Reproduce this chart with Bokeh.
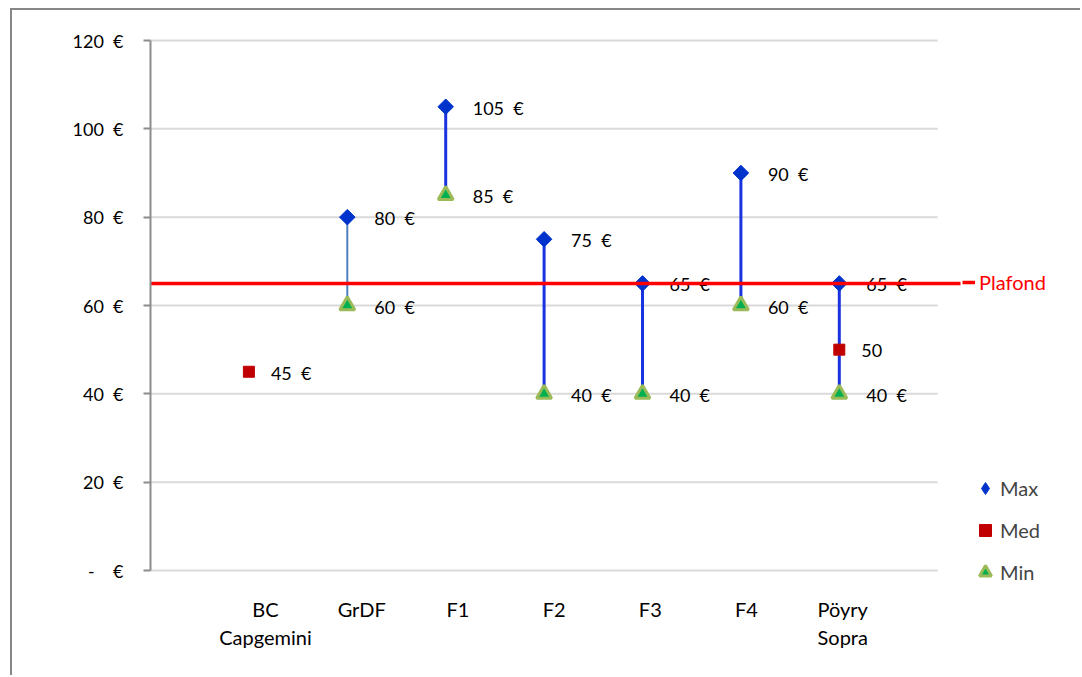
import math
from bokeh.plotting import figure
from bokeh.models import (ColumnDataSource, Range1d, LinearAxis, FixedTicker,
                          Legend, LegendItem)
from bokeh.embed import file_html
from bokeh.resources import INLINE

# --- data -----------------------------------------------------------------
categories = ["BC\nCapgemini", "GrDF", "F1", "F2", "F3", "F4", "Pöyry\nSopra"]
positions = [1, 2, 3, 4, 5, 6, 7]

max_pos = [2, 3, 4, 5, 6, 7]
max_vals = [80, 105, 75, 65, 90, 65]
min_vals = [60, 85, 40, 40, 60, 40]
line_colors = ["#4f81bd", "#1a33e0", "#1a33e0", "#1a33e0", "#1a33e0", "#1a33e0"]
line_widths = [2, 3, 3, 3, 3, 3]

med_pos = [1, 7]
med_vals = [45, 50]
med_labels = ["45\u00a0\u00a0€", "50"]

plafond = 65

y_ticks = [0, 20, 40, 60, 80, 100, 120]
y_tick_labels = {0: "-\u00a0\u00a0\u00a0\u00a0€", 20: "20\u00a0\u00a0€",
                 40: "40\u00a0\u00a0€", 60: "60\u00a0\u00a0€",
                 80: "80\u00a0\u00a0€", 100: "100\u00a0\u00a0€",
                 120: "120\u00a0\u00a0€"}


def euro(v):
    return f"{v}\u00a0\u00a0€"


FONT = "Lato"
FS_NUM = "18px"
FS_TXT = "20px"

# --- figure ---------------------------------------------------------------
W, H = 1070, 667
LEFT, BOTTOM = 138, 87
frame_w = W - LEFT
frame_h = H - BOTTOM
px_per_cat = 98.4
px_per_unit = 530 / 120

y_min = -20 / px_per_unit
x_max = frame_w / px_per_cat
y_max = y_min + frame_h / px_per_unit

p = figure(width=W, height=H, output_backend="svg", toolbar_location=None,
           x_range=Range1d(0, x_max), y_range=Range1d(y_min, y_max),
           x_axis_location=None, y_axis_location=None,
           min_border_left=LEFT, min_border_right=0, min_border_top=0,
           min_border_bottom=BOTTOM)
p.outline_line_color = None
p.xgrid.visible = False
p.ygrid.visible = False
p.background_fill_color = "white"
p.border_fill_color = "white"
p.styles = {"margin-left": "10px", "margin-top": "8px",
            "border-left": "2px solid #878787",
            "border-top": "2px solid #878787"}

# horizontal gridlines across the category span
p.segment(x0=[0] * len(y_ticks), x1=[8] * len(y_ticks), y0=y_ticks, y1=y_ticks,
          line_color="#d9d9d9", line_width=2)

# y axis
yaxis = LinearAxis(bounds=(0, 120))
yaxis.ticker = FixedTicker(ticks=y_ticks)
yaxis.major_label_overrides = y_tick_labels
yaxis.axis_line_color = "#8c8c8c"
yaxis.axis_line_width = 2
yaxis.major_tick_line_color = "#8c8c8c"
yaxis.major_tick_line_width = 2
yaxis.major_tick_out = 7
yaxis.major_tick_in = 0
yaxis.minor_tick_line_color = None
yaxis.major_label_standoff = 20
yaxis.major_label_text_font = FONT
yaxis.major_label_text_font_size = FS_NUM
yaxis.major_label_text_color = "black"
p.add_layout(yaxis, "left")

# x axis (category labels)
p.extra_x_ranges = {"labels": Range1d((0 - 18.8) / 96.2, (frame_w - 18.8) / 96.2)}
xaxis = LinearAxis(x_range_name="labels")
xaxis.ticker = FixedTicker(ticks=positions)
xaxis.major_label_overrides = {pos: c for pos, c in zip(positions, categories)}
xaxis.axis_line_color = None
xaxis.major_tick_line_color = None
xaxis.major_tick_out = 0
xaxis.major_tick_in = 0
xaxis.minor_tick_line_color = None
xaxis.major_label_standoff = 6
xaxis.major_label_text_font = FONT
xaxis.major_label_text_font_size = FS_TXT
xaxis.major_label_text_color = "black"
p.add_layout(xaxis, "below")

# high-low lines
p.segment(x0=max_pos, x1=max_pos, y0=min_vals, y1=max_vals,
          line_color=line_colors, line_width=line_widths)

# markers
p.scatter(x=max_pos, y=max_vals, marker="square", angle=math.pi / 4,
          size=11, fill_color="#0033cc", line_color="#0033cc")
r_med = p.scatter(x=med_pos, y=med_vals, marker="square", size=11,
                  fill_color="#c00000", line_color="#c00000")
r_min = p.scatter(x=max_pos, y=min_vals, marker="triangle", size=15,
                  fill_color="#00b050", line_color="#9bbb59", line_width=3)
# legend swatch for the Max series (not drawn in the plot area)
r_max_key = p.scatter(x=[float("nan")], y=[float("nan")], marker="diamond",
                      size=18, fill_color="#0033cc", line_color="#0033cc")

# value labels
src_max = ColumnDataSource(dict(x=max_pos, y=max_vals,
                                t=[euro(v) for v in max_vals]))
src_min = ColumnDataSource(dict(x=max_pos, y=min_vals,
                                t=[euro(v) for v in min_vals]))
src_med = ColumnDataSource(dict(x=med_pos, y=med_vals, t=med_labels))
for src, off in ((src_max, 27), (src_min, 27), (src_med, 22)):
    p.text(x="x", y="y", text="t", source=src, x_offset=off, y_offset=1,
           text_font={"value": FONT}, text_font_size={"value": FS_NUM},
           text_baseline="middle", text_align="left", text_color="black")

# plafond line, drawn over the series
plafond_end = (960 - 150) / px_per_cat
r_plaf = p.line(x=[0, plafond_end], y=[plafond, plafond],
                line_color="#ff0000", line_width=3.5)

# legends
legend = Legend(items=[LegendItem(label="Max", renderers=[r_max_key]),
                       LegendItem(label="Med", renderers=[r_med]),
                       LegendItem(label="Min", renderers=[r_min])],
                location=(820, 1), orientation="vertical",
                border_line_color=None, background_fill_alpha=0,
                padding=0, margin=0, spacing=8,
                glyph_width=30, glyph_height=34, label_height=34,
                label_standoff=0,
                label_text_font=FONT, label_text_font_size=FS_TXT)
p.add_layout(legend)

plaf_center = (plafond - y_min) * px_per_unit
plaf_legend = Legend(items=[LegendItem(label="Plafond", renderers=[r_plaf])],
                     location=(812, plaf_center - 11),
                     border_line_color=None, background_fill_alpha=0,
                     padding=0, margin=0,
                     glyph_width=13, glyph_height=20, label_height=20,
                     label_standoff=4,
                     label_text_font=FONT, label_text_font_size=FS_TXT,
                     label_text_color="#ff0000")
p.add_layout(plaf_legend)

open("out.html", "w").write(file_html(p, INLINE))
